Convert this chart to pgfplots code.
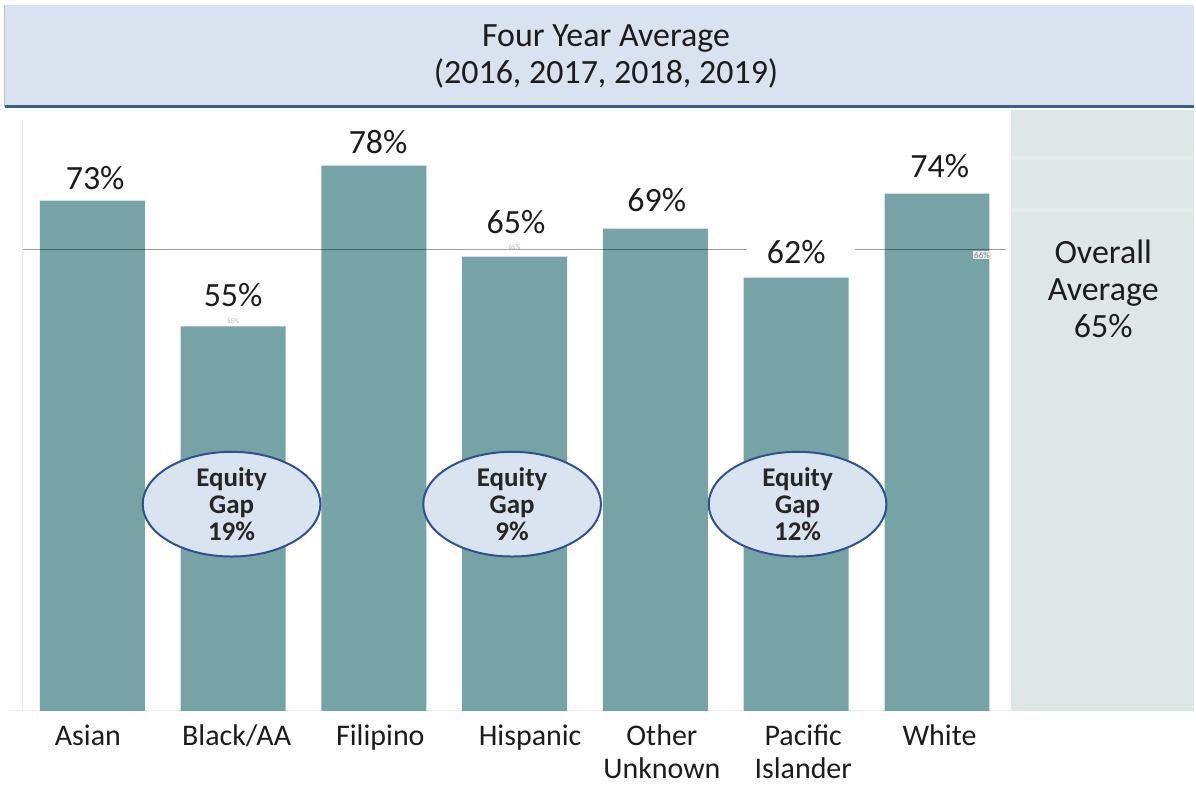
\documentclass[border=0pt]{standalone}
\usepackage{pgfplots}
\pgfplotsset{compat=1.18}
\usepackage{fontspec}
\setmainfont{Carlito}
\usetikzlibrary{shapes.geometric}
\definecolor{barteal}{RGB}{118,164,166}
\definecolor{bandblue}{RGB}{217,226,239}
\definecolor{bandline}{RGB}{62,92,142}
\definecolor{panelgray}{RGB}{222,231,229}
\definecolor{ellfill}{RGB}{218,227,240}
\definecolor{elldraw}{RGB}{47,82,143}
\definecolor{txt}{RGB}{28,28,28}

\begin{document}
\begin{tikzpicture}
\begin{axis}[
  scale only axis,
  width=594pt, height=301pt,
  xmin=-0.5993, xmax=7.8262,
  ymin=0, ymax=86,
  clip=false,
  axis line style={draw=none},
  major tick length=0pt,
  ytick=\empty,
  xtick={-0.032,1.025,2.046,3.11,4.046,5.05,6.018},
  xticklabels={Asian,Black/AA,Filipino,Hispanic,Other\\Unknown,Pacific\\Islander,White},
  xticklabel style={font=\fontsize{15}{16.5}\selectfont, text=txt, align=center,
    anchor=north, inner sep=0pt, yshift=-7pt},
]
% ---- title band ----
\fill[bandblue] (axis cs:-0.6206,86.43) rectangle (axis cs:7.8262,101.0);
\draw[gray!50,line width=0.5pt] (axis cs:-0.6206,86.43) -- (axis cs:-0.6206,101.0);
\draw[bandline,line width=1.5pt] (axis cs:-0.6206,86.5) -- (axis cs:7.8262,86.5);
\node[font=\fontsize{17}{18.5}\selectfont,text=txt,align=center]
  at (axis cs:3.649,93.64) {Four Year Average\\(2016, 2017, 2018, 2019)};

% ---- overall average panel ----
\fill[panelgray] (axis cs:6.528,0) rectangle (axis cs:7.8262,86);
\draw[panelgray!80!white,line width=2pt] (axis cs:6.528,79.1) -- (axis cs:7.8262,79.1);
\draw[panelgray!80!white,line width=2pt] (axis cs:6.528,71.7) -- (axis cs:7.8262,71.7);
\node[font=\fontsize{17}{18.5}\selectfont,text=txt,align=center]
  at (axis cs:7.181,60.43) {Overall\\Average\\65\%};

% ---- faint frame ----
\draw[gray!15,line width=0.5pt] (axis cs:-0.5993,0) -- (axis cs:6.528,0);
\draw[gray!15,line width=0.5pt] (axis cs:-0.493,0) -- (axis cs:-0.493,84.5);

% ---- bars ----
\addplot[ybar, bar width=0.745, bar shift=0pt, fill=barteal, draw=none, forget plot]
  coordinates {(0,73) (1,55) (2,78) (3,65) (4,69) (5,62) (6,74)};

% ---- 66% reference line ----
\addplot[black, opacity=0.38, line width=0.6pt, forget plot]
  coordinates {(-0.493,66) (4.649,66)};
\addplot[black, opacity=0.38, line width=0.6pt, forget plot]
  coordinates {(5.415,66) (6.493,66)};
\node[font=\fontsize{4.5}{5}\selectfont,text=gray,fill=gray!15,inner sep=0.6pt]
  at (axis cs:6.32,65.2) {66\%};
\node[font=\fontsize{3.5}{4}\selectfont,text=gray!60] at (axis cs:1,55.7) {55\%};
\node[font=\fontsize{3.5}{4}\selectfont,text=gray!60] at (axis cs:3,66.4) {65\%};

% ---- value labels ----
\addplot[draw=none, mark=none, forget plot,
  point meta=explicit symbolic,
  nodes near coords,
  nodes near coords style={font=\fontsize{17}{18}\selectfont, text=txt, anchor=center, inner sep=0pt}]
  coordinates {(0.02,76.29) [73\%] (1,59.43) [55\%] (2.03,81.43) [78\%] (3.01,70.0) [65\%]
               (4.01,73.14) [69\%] (5,65.71) [62\%] (6.02,78.0) [74\%]};

% ---- equity gap callouts ----
\tikzset{gap/.style={ellipse, fill=ellfill, draw=elldraw, line width=1pt,
  minimum width=89pt, minimum height=45pt, inner sep=0pt, align=center,
  font=\bfseries\fontsize{13.5}{13.75}\selectfont, text=black!85}}
\node[gap] at (axis cs:0.989,29.57) {Equity\\Gap\\19\%};
\node[gap] at (axis cs:2.982,29.57) {Equity\\Gap\\9\%};
\node[gap] at (axis cs:5.010,29.57) {Equity\\Gap\\12\%};
\end{axis}
\useasboundingbox ([xshift=-4pt,yshift=-38.5pt]current axis.south west)
  rectangle ([yshift=55pt]current axis.north east);
\end{tikzpicture}
\end{document}
